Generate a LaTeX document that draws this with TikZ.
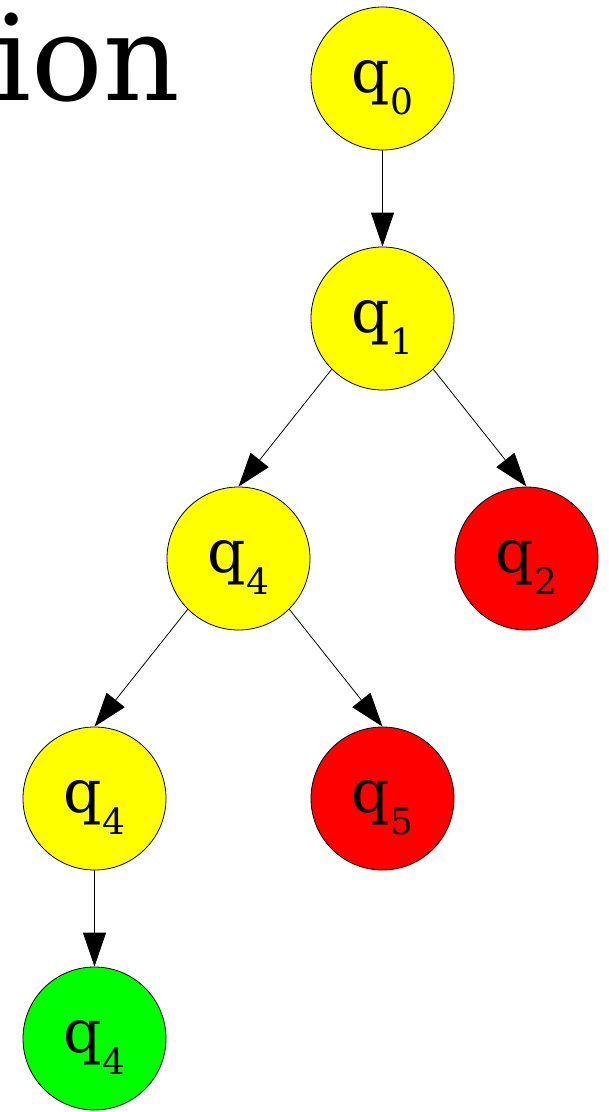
\documentclass[tikz,border=0pt]{standalone}
\usepackage{fontspec}
\setmainfont{DejaVu Serif}
\usetikzlibrary{arrows.meta}
\definecolor{nyel}{RGB}{255,255,0}
\definecolor{nred}{RGB}{255,0,0}
\definecolor{ngreen}{RGB}{0,255,0}
\newcommand{\qlab}[1]{\fontsize{60}{60}\selectfont q\raisebox{-22pt}{\fontsize{36}{36}\selectfont #1}}
\tikzset{
  st/.style={circle, draw=black, line width=0.8pt, minimum size=143pt, inner sep=0pt},
  lab/.style={anchor=base, inner sep=0pt},
  edge/.style={draw=black, line width=0.8pt, -{Triangle[length=34pt,width=23pt]}},
}
\begin{document}
\begin{tikzpicture}[x=1pt,y=1pt]
\clip (0,0) rectangle (609,-1112);
\fill[white] (0,0) rectangle (609,-1112);
\node[anchor=base east, inner sep=0pt, font=\fontsize{119}{119}\selectfont] (title) at (180,-100) {ion};
\node[st, fill=nyel] (q0) at (382.5,-78.5) {};
\node[st, fill=nyel] (q1) at (382.5,-318.5) {};
\node[st, fill=nyel] (q4a) at (238.5,-558.5) {};
\node[st, fill=nred] (q2) at (526.5,-558.5) {};
\node[st, fill=nyel] (q4b) at (94.5,-798.5) {};
\node[st, fill=nred] (q5) at (382.5,-798.5) {};
\node[st, fill=ngreen] (q4c) at (94.5,-1038.5) {};
\node[lab] (l0) at ([yshift=-13.5pt]q0.center) {\qlab{0}};
\node[lab] (l1) at ([yshift=-13.5pt]q1.center) {\qlab{1}};
\node[lab] (l4a) at ([yshift=-13.5pt]q4a.center) {\qlab{4}};
\node[lab] (l2) at ([yshift=-13.5pt]q2.center) {\qlab{2}};
\node[lab] (l4b) at ([yshift=-13.5pt]q4b.center) {\qlab{4}};
\node[lab] (l5) at ([yshift=-13.5pt]q5.center) {\qlab{5}};
\node[lab] (l4c) at ([yshift=-13.5pt]q4c.center) {\qlab{4}};
\draw[edge] (q0) -- (q1);
\draw[edge] (q1.225) -- (q4a.north);
\draw[edge] (q1.-45) -- (q2.north);
\draw[edge] (q4a.225) -- (q4b.north);
\draw[edge] (q4a.-45) -- (q5.north);
\draw[edge] (q4b) -- (q4c);
\end{tikzpicture}
\end{document}
